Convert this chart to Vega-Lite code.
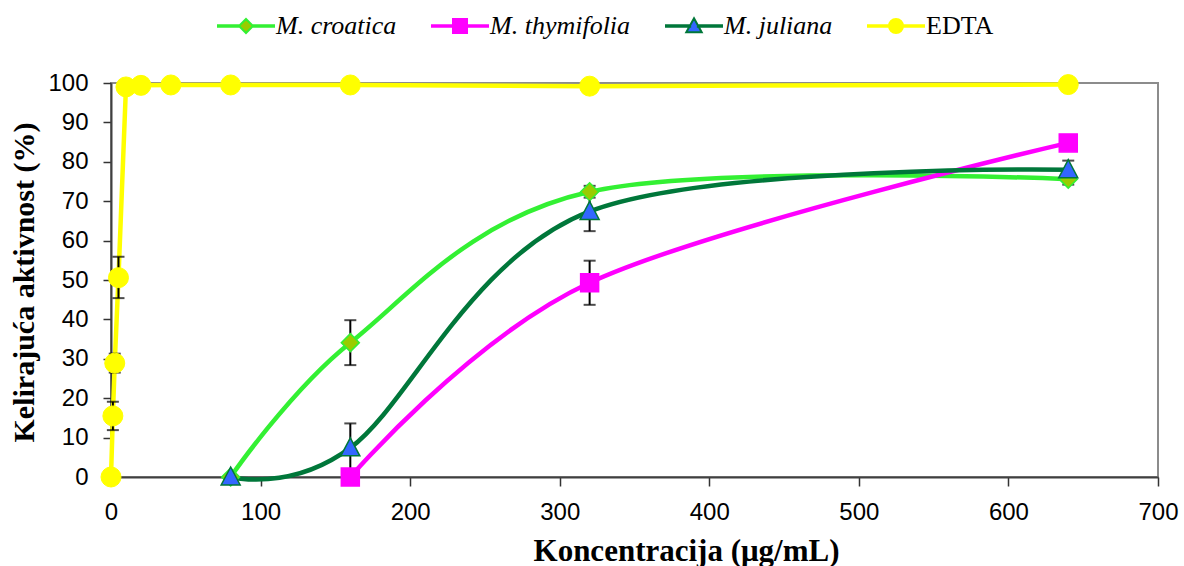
{
  "$schema": "https://vega.github.io/schema/vega-lite/v6.json",
  "width": 1047,
  "height": 394,
  "autosize": {"type": "none"},
  "padding": {"left": 111, "top": 83, "right": 26, "bottom": 89},
  "background": "white",
  "config": {
    "view": {"stroke": "#8c8c8c", "strokeWidth": 2},
    "axis": {
      "grid": false,
      "labelFont": "Liberation Sans",
      "labelFontSize": 24,
      "labelColor": "#000000",
      "labelFlush": false,
      "labelOverlap": false,
      "tickColor": "#333333",
      "tickWidth": 1.5,
      "domainColor": "#404040",
      "domainWidth": 2,
      "titleFont": "Liberation Serif",
      "titleFontSize": 30,
      "titleFontWeight": "bold",
      "titleColor": "#000000"
    },
    "axisX": {"tickSize": 9, "labelPadding": 14, "titleX": 575, "titleY": 83, "titleAlign": "center", "titleBaseline": "alphabetic", "titleFontSize": 31},
    "axisY": {"tickSize": 8, "labelPadding": 15, "titleX": -78, "titleY": 199, "titleAngle": -90, "titleAlign": "center", "titleBaseline": "alphabetic"}
  },
  "data": {
    "values": [
      {"series": "M. croatica", "x": 80, "y": 0},
      {"series": "M. croatica", "x": 160, "y": 34.1, "lo": 28.4, "hi": 39.8},
      {"series": "M. croatica", "x": 320, "y": 72.4, "lo": 70.9, "hi": 73.9},
      {"series": "M. croatica", "x": 640, "y": 75.6, "lo": 74.2, "hi": 77.0},
      {"series": "M. thymifolia", "x": 160, "y": 0},
      {"series": "M. thymifolia", "x": 320, "y": 49.3, "lo": 43.7, "hi": 54.9},
      {"series": "M. thymifolia", "x": 640, "y": 84.8},
      {"series": "M. juliana", "x": 80, "y": 0},
      {"series": "M. juliana", "x": 160, "y": 7.4, "lo": 1.2, "hi": 13.6},
      {"series": "M. juliana", "x": 320, "y": 67.4, "lo": 62.4, "hi": 72.4},
      {"series": "M. juliana", "x": 640, "y": 78.0, "lo": 75.8, "hi": 80.3},
      {"series": "EDTA", "x": 0, "y": 0},
      {"series": "EDTA", "x": 1.25, "y": 15.5, "lo": 11.9, "hi": 19.1},
      {"series": "EDTA", "x": 2.5, "y": 28.9, "lo": 26.5, "hi": 31.3},
      {"series": "EDTA", "x": 5, "y": 50.6, "lo": 45.4, "hi": 55.9},
      {"series": "EDTA", "x": 10, "y": 99.0},
      {"series": "EDTA", "x": 20, "y": 99.4},
      {"series": "EDTA", "x": 40, "y": 99.5},
      {"series": "EDTA", "x": 80, "y": 99.5},
      {"series": "EDTA", "x": 160, "y": 99.5},
      {"series": "EDTA", "x": 320, "y": 99.2},
      {"series": "EDTA", "x": 640, "y": 99.6}
    ]
  },
  "encoding": {
    "x": {
      "field": "x", "type": "quantitative",
      "title": "Koncentracija (μg/mL)",
      "scale": {"domain": [0, 700], "nice": false},
      "axis": {"values": [0, 100, 200, 300, 400, 500, 600, 700]}
    },
    "y": {
      "field": "y", "type": "quantitative",
      "title": "Kelirajuća aktivnost (%)",
      "scale": {"domain": [0, 100], "nice": false},
      "axis": {"values": [0, 10, 20, 30, 40, 50, 60, 70, 80, 90, 100]}
    }
  },
  "layer": [
    {
      "transform": [{"filter": "datum.series !== 'EDTA'"}],
      "mark": {"type": "line", "interpolate": "cardinal", "tension": 0, "strokeWidth": 4.5},
      "encoding": {
        "color": {
          "field": "series", "type": "nominal",
          "scale": {"domain": ["M. croatica", "M. thymifolia", "M. juliana", "EDTA"], "range": ["#33F033", "#FF00FF", "#00773A", "#FFFF00"]},
          "legend": {
            "orient": "none", "legendX": 101, "legendY": -70,
            "direction": "horizontal", "columns": 4,
            "title": null, "padding": 0,
            "symbolSize": 196, "symbolStrokeWidth": 2, "symbolOffset": 21,
            "labelOffset": 17, "columnPadding": 29,
            "labelFont": "Liberation Serif", "labelFontSize": 26, "labelColor": "#000000", "labelLimit": 300,
            "encode": {
              "symbols": {
                "update": {
                  "shape": {"signal": "datum.value === 'M. croatica' ? 'M-4,-0.12H-0.9V0.12H-4ZM0.9,-0.12H4V0.12H0.9ZM0,-1L1,0L0,1L-1,0Z' : datum.value === 'M. thymifolia' ? 'M-4,-0.12H-1V0.12H-4ZM1,-0.12H4V0.12H1ZM-1,-1H1V1H-1Z' : datum.value === 'M. juliana' ? 'M-4,-0.12H-0.55V0.12H-4ZM0.55,-0.12H4V0.12H0.55ZM0,-1.1L1.1,0.9H-1.1Z' : 'M-4,-0.12H-1V0.12H-4ZM1,-0.12H4V0.12H1ZM1,0A1,1 0 1,1 -1,0A1,1 0 1,1 1,0Z'"},
                  "fill": {"signal": "datum.value === 'M. croatica' ? '#99CC00' : datum.value === 'M. thymifolia' ? '#FF00FF' : datum.value === 'M. juliana' ? '#3366FF' : '#FFFF00'"},
                  "stroke": {"signal": "datum.value === 'M. croatica' ? '#33F033' : datum.value === 'M. thymifolia' ? '#FF00FF' : datum.value === 'M. juliana' ? '#00773A' : '#FFFF00'"},
                  "strokeWidth": {"value": 2},
                  "opacity": {"value": 1},
                  "fillOpacity": {"value": 1},
                  "strokeOpacity": {"value": 1}
                }
              },
              "labels": {
                "update": {
                  "fontStyle": {"signal": "datum.value === 'EDTA' ? 'normal' : 'italic'"}
                }
              }
            }
          }
        }
      }
    },
    {
      "transform": [{"filter": "datum.series === 'EDTA'"}],
      "mark": {"type": "line", "interpolate": "linear", "strokeWidth": 4.5, "color": "#FFFF00"},
      "encoding": {}
    },
    {
      "transform": [{"filter": "isValid(datum.lo)"}],
      "mark": {"type": "rule", "color": "#000000", "strokeWidth": 2},
      "encoding": {
        "y": {"field": "lo", "type": "quantitative", "title": "Kelirajuća aktivnost (%)", "axis": {"values": [0, 10, 20, 30, 40, 50, 60, 70, 80, 90, 100]}},
        "y2": {"field": "hi"}
      }
    },
    {
      "transform": [{"filter": "isValid(datum.lo)"}],
      "mark": {"type": "tick", "orient": "horizontal", "color": "#000000", "size": 12, "thickness": 2},
      "encoding": {
        "y": {"field": "lo", "type": "quantitative", "title": "Kelirajuća aktivnost (%)", "axis": {"values": [0, 10, 20, 30, 40, 50, 60, 70, 80, 90, 100]}}
      }
    },
    {
      "transform": [{"filter": "isValid(datum.hi)"}],
      "mark": {"type": "tick", "orient": "horizontal", "color": "#000000", "size": 12, "thickness": 2},
      "encoding": {
        "y": {"field": "hi", "type": "quantitative", "title": "Kelirajuća aktivnost (%)", "axis": {"values": [0, 10, 20, 30, 40, 50, 60, 70, 80, 90, 100]}}
      }
    },
    {
      "transform": [{"filter": "datum.series === 'M. croatica'"}],
      "mark": {"type": "point", "shape": "M0,-0.9L0.9,0L0,0.9L-0.9,0Z", "filled": true, "size": 400, "fill": "#99CC00", "stroke": "#33F033", "strokeWidth": 1.5, "opacity": 1},
      "encoding": {}
    },
    {
      "transform": [{"filter": "datum.series === 'M. thymifolia'"}],
      "mark": {"type": "point", "shape": "M-0.9,-0.9H0.9V0.9H-0.9Z", "filled": true, "size": 400, "fill": "#FF00FF", "stroke": "#FF00FF", "strokeWidth": 1.5, "opacity": 1},
      "encoding": {}
    },
    {
      "transform": [{"filter": "datum.series === 'M. juliana'"}],
      "mark": {"type": "point", "shape": "M0,-1L0.95,0.8H-0.95Z", "filled": true, "size": 400, "fill": "#3366FF", "stroke": "#00773A", "strokeWidth": 1.5, "opacity": 1},
      "encoding": {}
    },
    {
      "transform": [{"filter": "datum.series === 'EDTA'"}],
      "mark": {"type": "point", "shape": "circle", "filled": true, "size": 400, "fill": "#FFFF00", "stroke": "#FFFF00", "strokeWidth": 1, "opacity": 1},
      "encoding": {}
    }
  ]
}
